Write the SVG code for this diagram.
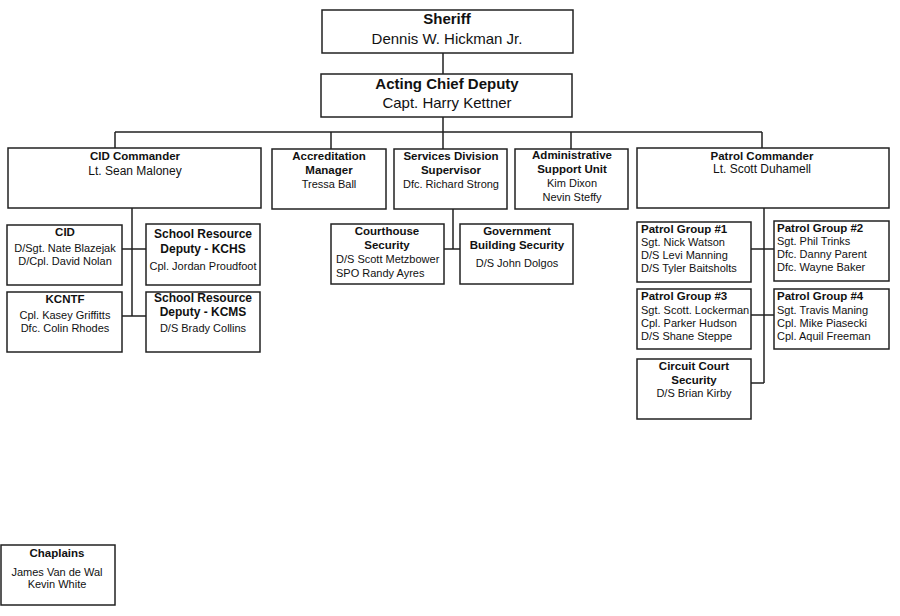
<svg xmlns="http://www.w3.org/2000/svg" width="900" height="616" viewBox="0 0 900 616">
<style>
.box{fill:#fff;stroke:#222;stroke-width:1.5}
.ln{stroke:#222;stroke-width:1.5;fill:none}
text{font-family:"Liberation Sans",Arial,sans-serif;fill:#111}
.big{font-size:15px}
.b{font-weight:bold}
.t{font-size:11.5px;font-weight:bold}
.r{font-size:11px}
.m{text-anchor:middle}
</style>
<rect width="900" height="616" fill="#fff"/>
<g id="connectors">
<path class="ln" d="M443,53V74M443,117V132M115,132H762M115,132V148M331,132V149M443,132V149M571,132V149M762,132V148"/>
<path class="ln" d="M132,208V316M122,249H146M122,316H146"/>
<path class="ln" d="M453,209V249M444,249H460"/>
<path class="ln" d="M764,208V383M751,249H774M751,315H774M751,383H764"/>
</g>
<g id="sheriff"><rect class="box" x="322" y="10" width="251" height="43"/>
<text class="big b m" x="447" y="24">Sheriff</text><text class="big m" x="447" y="44">Dennis W. Hickman Jr.</text></g>
<g id="chief"><rect class="box" x="321" y="74" width="251" height="43"/>
<text class="big b m" x="447" y="89">Acting Chief Deputy</text><text class="big m" x="447" y="108">Capt. Harry Kettner</text></g>
<g id="cid-commander"><rect class="box" x="8" y="148" width="253" height="60"/>
<text class="t m" x="135" y="160">CID Commander</text><text class="r m" x="135" y="175" style="font-size:12px">Lt. Sean Maloney</text></g>
<g id="accreditation"><rect class="box" x="272" y="149" width="114" height="60"/>
<text class="t m" x="329" y="160">Accreditation</text><text class="t m" x="329" y="174">Manager</text><text class="r m" x="329" y="188">Tressa Ball</text></g>
<g id="services"><rect class="box" x="394" y="149" width="113" height="60"/>
<text class="t m" x="451" y="160">Services Division</text><text class="t m" x="451" y="174">Supervisor</text><text class="r m" x="451" y="188">Dfc. Richard Strong</text></g>
<g id="admin"><rect class="box" x="515" y="149" width="113" height="60"/>
<text class="t m" x="572" y="159">Administrative</text><text class="t m" x="572" y="173">Support Unit</text><text class="r m" x="572" y="187">Kim Dixon</text><text class="r m" x="572" y="201">Nevin Steffy</text></g>
<g id="patrol-commander"><rect class="box" x="637" y="148" width="252" height="60"/>
<text class="t m" x="762" y="160">Patrol Commander</text><text class="r m" x="762" y="173" style="font-size:12px">Lt. Scott Duhamell</text></g>
<g id="cid"><rect class="box" x="7" y="225" width="115" height="60"/>
<text class="t m" x="65" y="236">CID</text><text class="r m" x="65" y="252">D/Sgt. Nate Blazejak</text><text class="r m" x="65" y="265">D/Cpl. David Nolan</text></g>
<g id="kchs"><rect class="box" x="146" y="224" width="114" height="61"/>
<text class="m b" x="203" y="238" style="font-size:12px">School Resource</text><text class="m b" x="203" y="253" style="font-size:12px">Deputy - KCHS</text><text class="r m" x="203" y="270">Cpl. Jordan Proudfoot</text></g>
<g id="kcntf"><rect class="box" x="7" y="292" width="115" height="60"/>
<text class="t m" x="65" y="303">KCNTF</text><text class="r m" x="65" y="319">Cpl. Kasey Griffitts</text><text class="r m" x="65" y="332">Dfc. Colin Rhodes</text></g>
<g id="kcms"><rect class="box" x="146" y="292" width="114" height="60"/>
<text class="m b" x="203" y="302" style="font-size:12px">School Resource</text><text class="m b" x="203" y="316" style="font-size:12px">Deputy - KCMS</text><text class="r m" x="203" y="332">D/S Brady Collins</text></g>
<g id="courthouse"><rect class="box" x="331" y="224" width="113" height="60"/>
<text class="t m" x="387" y="235">Courthouse</text><text class="t m" x="387" y="249">Security</text><text class="r" x="336" y="263">D/S Scott Metzbower</text><text class="r" x="336" y="277">SPO Randy Ayres</text></g>
<g id="government"><rect class="box" x="460" y="224" width="113" height="60"/>
<text class="t m" x="517" y="235">Government</text><text class="t m" x="517" y="249">Building Security</text><text class="r m" x="517" y="267">D/S John Dolgos</text></g>
<g id="patrol1"><rect class="box" x="637" y="222" width="114" height="60"/>
<text class="t" x="641" y="233">Patrol Group #1</text><text class="r" x="641" y="246">Sgt. Nick Watson</text><text class="r" x="641" y="259">D/S Levi Manning</text><text class="r" x="641" y="272">D/S Tyler Baitsholts</text></g>
<g id="patrol2"><rect class="box" x="774" y="221" width="115" height="60"/>
<text class="t" x="777" y="232">Patrol Group #2</text><text class="r" x="777" y="245">Sgt. Phil Trinks</text><text class="r" x="777" y="258">Dfc. Danny Parent</text><text class="r" x="777" y="271">Dfc. Wayne Baker</text></g>
<g id="patrol3"><rect class="box" x="637" y="289" width="114" height="60"/>
<text class="t" x="641" y="300">Patrol Group #3</text><text class="r" x="641" y="314">Sgt. Scott. Lockerman</text><text class="r" x="641" y="327">Cpl. Parker Hudson</text><text class="r" x="641" y="340">D/S Shane Steppe</text></g>
<g id="patrol4"><rect class="box" x="774" y="289" width="115" height="60"/>
<text class="t" x="777" y="300">Patrol Group #4</text><text class="r" x="777" y="314">Sgt. Travis Maning</text><text class="r" x="777" y="327">Cpl. Mike Piasecki</text><text class="r" x="777" y="340">Cpl. Aquil Freeman</text></g>
<g id="circuit"><rect class="box" x="637" y="359" width="114" height="60"/>
<text class="t m" x="694" y="370">Circuit Court</text><text class="t m" x="694" y="384">Security</text><text class="r m" x="694" y="397">D/S Brian Kirby</text></g>
<g id="chaplains"><rect class="box" x="1" y="545" width="114" height="60"/>
<text class="t m" x="57" y="557">Chaplains</text><text class="r m" x="57" y="576">James Van de Wal</text><text class="r m" x="57" y="588">Kevin White</text></g>
</svg>
